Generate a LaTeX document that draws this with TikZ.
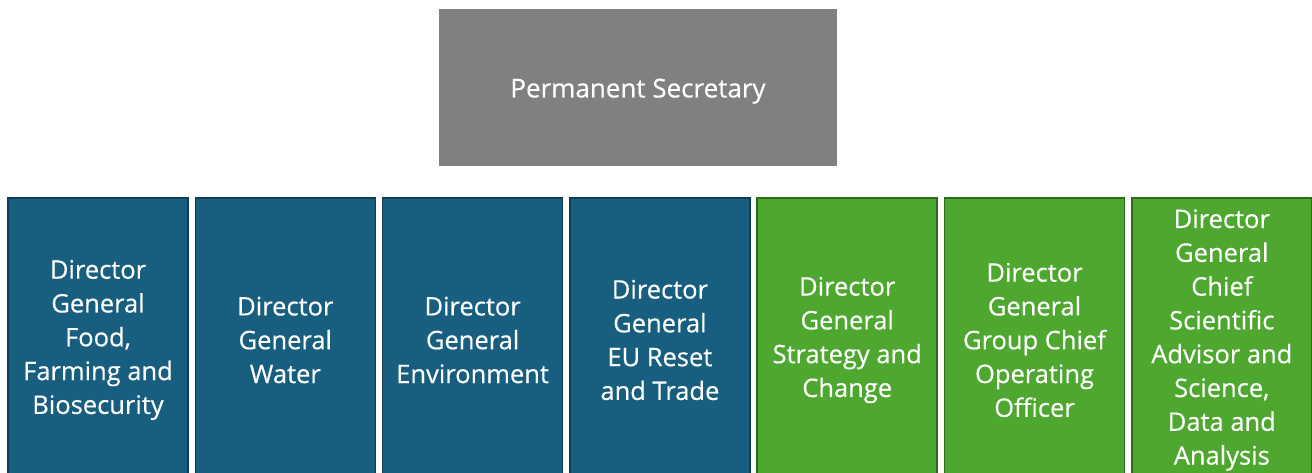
\documentclass[tikz,border=0pt]{standalone}
\usepackage{fontspec}
\setmainfont{Open Sans}[FakeBold=0.4]
\definecolor{psgray}{HTML}{808080}
\definecolor{dgblue}{HTML}{175E7F}
\definecolor{dgblueline}{HTML}{0F3D53}
\definecolor{dggreen}{HTML}{4EA72E}
\definecolor{dggreenline}{HTML}{2F6A1C}
\tikzset{
  psbox/.style={fill=psgray, draw=none, minimum width=398pt, minimum height=157pt, inner sep=0pt, text=white, font=\fontsize{26}{30}\selectfont},
  dgbase/.style={line width=1.5pt, minimum width=180pt, minimum height=284pt, inner sep=0pt, text=white, align=center, font=\fontsize{25.5}{33.8}\selectfont},
  dgblue/.style={dgbase, fill=dgblue, draw=dgblueline},
  dggreen/.style={dgbase, fill=dggreen, draw=dggreenline}
}
\begin{document}
\begin{tikzpicture}[x=1pt,y=1pt]
\useasboundingbox (0,0) rectangle (1312,472);
\node[psbox] (ps) at (638,384.5) {\raisebox{-10pt}[0pt][0pt]{Permanent Secretary}};
\node[dgblue] (d1) at (98,132) {Director\\General\\Food,\\Farming and\\Biosecurity};
\node[dgblue] (d2) at (285.3,132) {Director\\General\\Water};
\node[dgblue] (d3) at (472.6,132) {Director\\General\\Environment};
\node[dgblue] (d4) at (659.9,132) {Director\\General\\EU Reset\\and Trade};
\node[dggreen] (d5) at (847.2,132) {Director\\General\\Strategy and\\Change};
\node[dggreen] (d6) at (1034.5,132) {Director\\General\\Group Chief\\Operating\\Officer};
\node[dggreen] (d7) at (1221.8,132) {Director\\General\\Chief\\Scientific\\Advisor and\\Science,\\Data and\\Analysis};
\end{tikzpicture}
\end{document}
